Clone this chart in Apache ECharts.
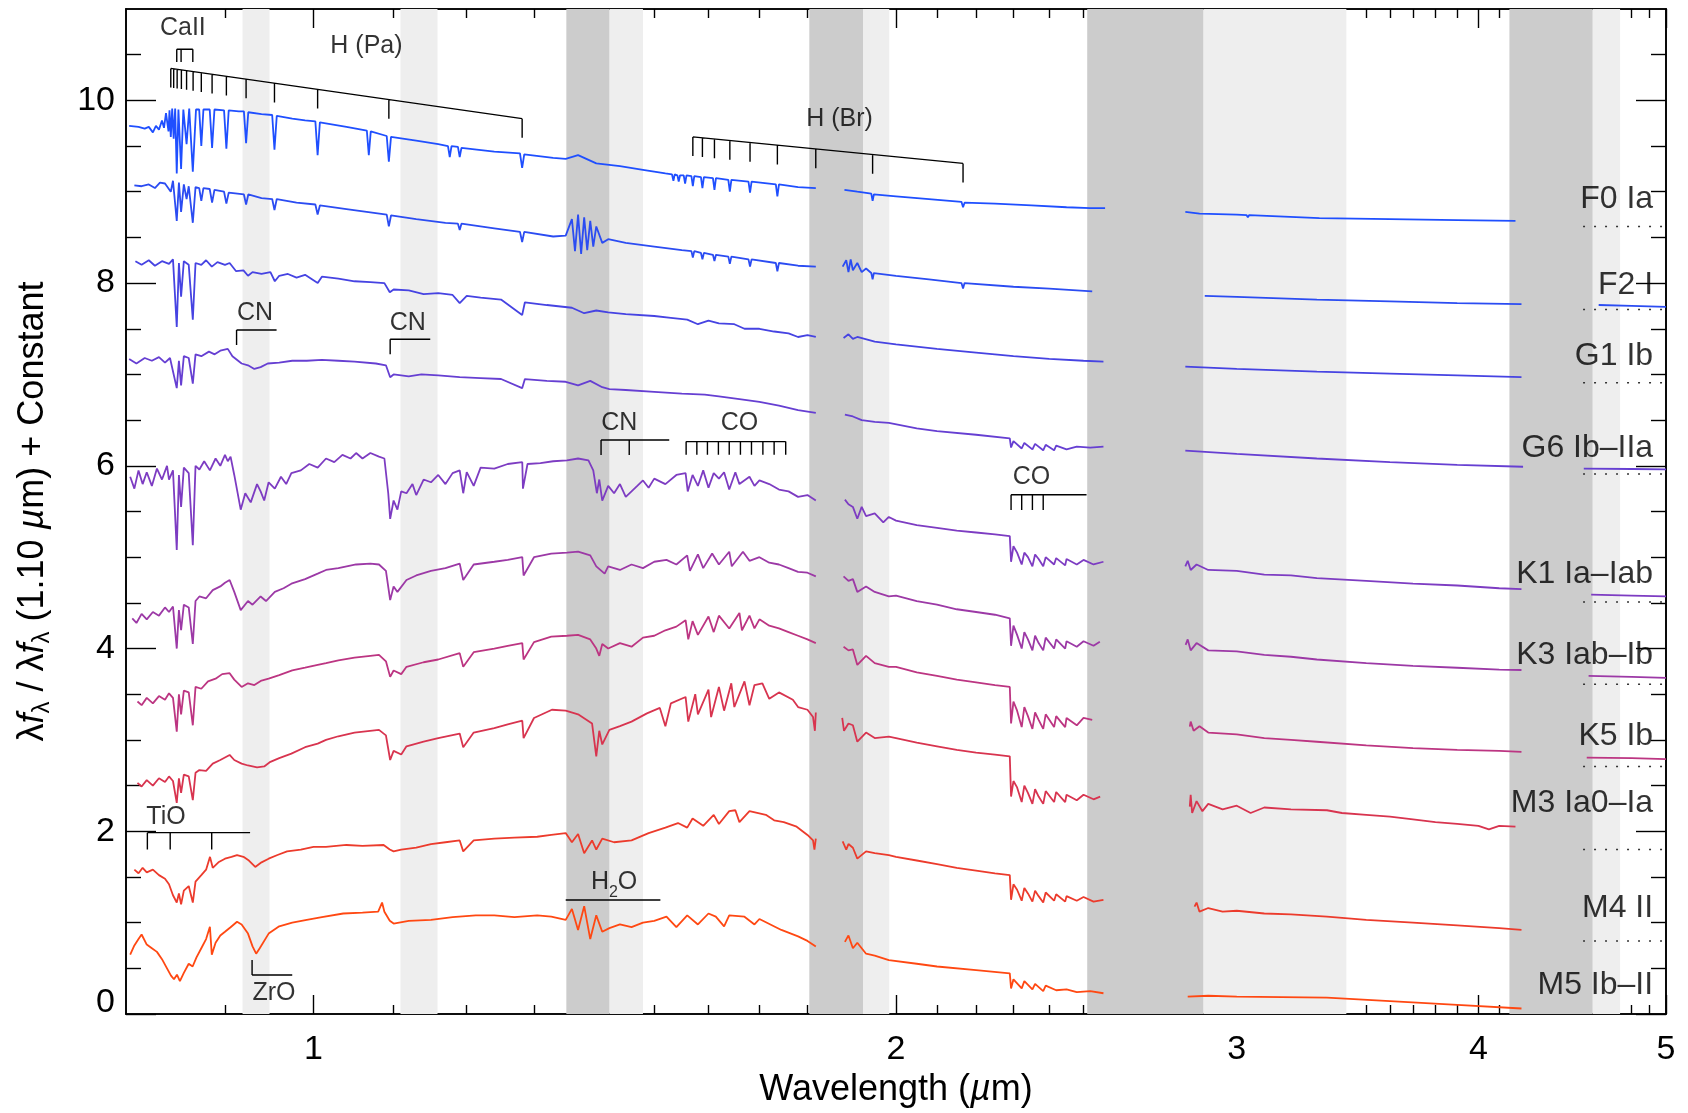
<!DOCTYPE html>
<html>
<head>
<meta charset="utf-8">
<title>Supergiant spectral sequence</title>
<script src="https://cdn.jsdelivr.net/npm/echarts@6/dist/echarts.min.js"></script>
<style>
  html, body { margin: 0; padding: 0; background: #fff; }
  #chart { width: 1688px; height: 1113px; }
</style>
</head>
<body>
<div id="chart"></div>
<script>
// ---- Spectra: [wavelength (um), normalised flux + offset]; [x, null] breaks a line ----
const f0Ia = [
  [0.803,9.72],[0.812,9.71],[0.818,9.69],[0.822,9.71],[0.826,9.65],[0.829,9.72],[0.832,9.68],[0.835,9.78],[0.837,9.70],[0.839,9.86],
  [0.8415,9.66],[0.8425,9.89],[0.8438,9.60],[0.8452,9.91],[0.8467,9.58],[0.8482,9.91],[0.8498,9.20],[0.8515,9.90],[0.8542,9.25],[0.8565,9.90],
  [0.8598,9.52],[0.8625,9.91],[0.8662,9.22],[0.8695,9.90],[0.8728,9.90],[0.8750,9.50],[0.8772,9.90],[0.8838,9.90],[0.8863,9.48],[0.8888,9.90],
  [0.899,9.89],[0.9015,9.47],[0.904,9.89],[0.915,9.88],[0.9205,9.88],[0.9229,9.53],[0.9253,9.87],[0.94,9.85],[0.952,9.84],[0.9546,9.46],
  [0.9572,9.83],[0.975,9.80],[0.99,9.78],[1.0022,9.77],[1.0049,9.40],[1.0076,9.76],[1.04,9.71],[1.0655,9.67],[1.068,9.40],[1.0705,9.66],
  [1.091,9.61],[1.0938,9.33],[1.0966,9.60],[1.13,9.56],[1.16,9.52],[1.1735,9.50],[1.176,9.38],[1.1785,9.50],[1.1875,9.49],[1.19,9.38],
  [1.1925,9.48],[1.24,9.44],[1.2785,9.42],[1.2818,9.26],[1.285,9.41],[1.33,9.37],[1.35,9.36],[1.37,9.40],[1.40,9.31],[1.44,9.28],
  [1.48,9.24],[1.52,9.20],[1.532,9.19],[1.5346,9.12],[1.537,9.19],[1.5418,9.18],[1.5443,9.11],[1.5468,9.18],[1.5535,9.18],[1.5561,9.09],
  [1.5587,9.18],[1.5678,9.17],[1.5705,9.06],[1.5732,9.17],[1.5857,9.16],[1.5885,9.04],[1.5913,9.16],[1.6085,9.15],[1.6114,9.02],[1.6143,9.15],
  [1.6382,9.13],[1.6412,9.00],[1.6442,9.13],[1.678,9.11],[1.6811,8.99],[1.6842,9.11],[1.7335,9.08],[1.7367,8.95],[1.74,9.08],[1.78,9.05],
  [1.818,9.04],
  [1.85,null],
  [1.881,9.02],[1.91,9.00],[1.942,8.98],[1.9451,8.90],[1.948,8.97],[2.00,8.95],[2.08,8.92],[2.162,8.89],[2.1661,8.83],[2.170,8.88],
  [2.25,8.87],[2.35,8.85],[2.45,8.83],[2.52,8.82],[2.565,8.82],
  [2.7,null],
  [2.822,8.78],[2.87,8.76],[3.0,8.75],[3.035,8.745],[3.04,8.72],[3.045,8.745],[3.31,8.71],[3.6,8.70],[3.9,8.69],[4.18,8.68]
];
const f2I = [
  [0.808,9.07],[0.815,9.06],[0.822,9.08],[0.828,9.04],[0.833,9.10],[0.838,9.09],[0.8438,9.00],[0.846,9.12],[0.8498,8.68],[0.852,9.10],
  [0.8542,8.78],[0.857,9.08],[0.8598,8.92],[0.862,9.06],[0.8662,8.66],[0.869,9.05],[0.8728,9.04],[0.875,8.90],[0.8772,9.04],[0.8838,9.03],
  [0.8863,8.88],[0.8888,9.02],[0.899,9.00],[0.9015,8.87],[0.904,8.99],[0.9205,8.97],[0.9229,8.86],[0.9253,8.97],[0.94,8.93],[0.952,8.92],
  [0.9546,8.80],[0.9572,8.92],[0.98,8.88],[1.0022,8.86],[1.0049,8.75],[1.0076,8.85],[1.04,8.81],[1.091,8.75],[1.0938,8.62],[1.0966,8.74],
  [1.13,8.70],[1.17,8.66],[1.1875,8.65],[1.19,8.58],[1.1925,8.65],[1.24,8.60],[1.2785,8.56],[1.2818,8.45],[1.285,8.56],[1.33,8.51],
  [1.35,8.52],[1.36,8.70],[1.365,8.35],[1.37,8.75],[1.375,8.32],[1.38,8.72],[1.385,8.36],[1.39,8.68],[1.395,8.40],[1.40,8.62],
  [1.41,8.44],[1.42,8.48],[1.45,8.44],[1.50,8.40],[1.55,8.36],[1.5678,8.35],[1.5705,8.28],[1.5732,8.35],[1.5857,8.33],[1.5885,8.26],
  [1.5913,8.33],[1.6085,8.31],[1.6114,8.24],[1.6143,8.31],[1.6382,8.29],[1.6412,8.21],[1.6442,8.29],[1.678,8.26],[1.6811,8.18],[1.6842,8.26],
  [1.7335,8.22],[1.7367,8.13],[1.74,8.22],[1.78,8.19],[1.818,8.18],
  [1.85,null],
  [1.877,8.18],[1.885,8.25],[1.89,8.12],[1.895,8.26],[1.90,8.14],[1.91,8.22],[1.92,8.12],[1.93,8.16],[1.942,8.11],[1.9451,8.04],
  [1.948,8.11],[2.0,8.08],[2.08,8.04],[2.162,8.00],[2.1661,7.94],[2.170,8.00],[2.3,7.96],[2.4,7.94],[2.526,7.91],
  [2.7,null],
  [2.888,7.86],[3.0,7.85],[3.3,7.82],[3.6,7.80],[3.9,7.78],[4.21,7.77],
  [4.4,null],
  [4.615,7.76],[4.8,7.75],[5.0,7.74]
];
const g1Ib = [
  [0.809,8.24],[0.815,8.20],[0.822,8.25],[0.828,8.19],[0.835,8.24],[0.842,8.21],[0.846,8.26],[0.8498,7.52],[0.852,8.22],[0.8542,7.85],
  [0.857,8.24],[0.862,8.20],[0.8662,7.60],[0.869,8.22],[0.875,8.20],[0.88,8.25],[0.886,8.18],[0.892,8.23],[0.90,8.20],[0.905,8.22],
  [0.912,8.13],[0.92,8.14],[0.925,8.08],[0.93,8.12],[0.94,8.10],[0.95,8.12],[0.955,8.02],[0.96,8.08],[0.97,8.10],[0.98,8.06],
  [0.99,8.09],[1.005,8.00],[1.01,8.07],[1.03,8.05],[1.05,8.02],[1.07,8.01],[1.088,8.00],[1.095,7.90],[1.10,7.93],[1.12,7.92],
  [1.14,7.88],[1.16,7.89],[1.18,7.87],[1.19,7.78],[1.2,7.86],[1.22,7.84],[1.25,7.82],[1.2818,7.65],[1.286,7.79],[1.32,7.76],
  [1.36,7.73],[1.38,7.67],[1.40,7.70],[1.42,7.68],[1.45,7.66],[1.50,7.64],[1.53,7.62],[1.56,7.60],[1.58,7.55],[1.60,7.59],
  [1.62,7.56],[1.65,7.55],[1.67,7.50],[1.70,7.50],[1.73,7.47],[1.76,7.45],[1.78,7.41],[1.80,7.43],[1.818,7.41],
  [1.85,null],
  [1.879,7.40],[1.89,7.44],[1.90,7.39],[1.91,7.41],[1.95,7.36],[2.0,7.33],[2.1,7.28],[2.2,7.24],[2.3,7.20],[2.4,7.17],
  [2.5,7.15],[2.56,7.14],
  [2.7,null],
  [2.822,7.085],[3.0,7.06],[3.3,7.03],[3.6,7.01],[3.9,6.99],[4.21,6.97]
];
const g6IbIIa = [
  [0.803,7.17],[0.81,7.12],[0.818,7.18],[0.825,7.15],[0.832,7.19],[0.838,7.13],[0.843,7.18],[0.8498,6.85],[0.852,7.15],[0.8542,6.88],
  [0.857,7.20],[0.862,7.18],[0.8662,6.90],[0.869,7.22],[0.875,7.20],[0.883,7.25],[0.889,7.22],[0.895,7.26],[0.903,7.28],[0.908,7.20],
  [0.918,7.12],[0.925,7.10],[0.932,7.06],[0.939,7.08],[0.947,7.12],[0.96,7.13],[0.975,7.15],[0.992,7.15],[1.01,7.16],[1.03,7.15],
  [1.05,7.14],[1.077,7.12],[1.09,7.10],[1.0955,6.97],[1.10,7.00],[1.12,6.98],[1.137,7.00],[1.16,6.99],[1.19,6.97],[1.22,6.96],
  [1.25,6.95],[1.2818,6.85],[1.286,6.95],[1.32,6.93],[1.35,6.92],[1.37,6.88],[1.39,6.93],[1.41,6.86],[1.422,6.84],[1.45,6.83],
  [1.5,6.81],[1.55,6.79],[1.593,6.78],[1.62,6.76],[1.66,6.73],[1.70,6.70],[1.74,6.66],[1.78,6.61],[1.818,6.58],
  [1.85,null],
  [1.882,6.56],[1.90,6.54],[1.92,6.50],[1.95,6.48],[1.983,6.47],[2.05,6.41],[2.1,6.38],[2.2,6.34],[2.29,6.30],[2.2935,6.20],
  [2.30,6.27],[2.3227,6.19],[2.33,6.25],[2.3525,6.18],[2.36,6.24],[2.3829,6.17],[2.39,6.23],[2.414,6.17],[2.42,6.22],[2.45,6.18],
  [2.48,6.21],[2.52,6.20],[2.56,6.21],
  [2.7,null],
  [2.822,6.166],[3.0,6.13],[3.3,6.08],[3.6,6.04],[3.9,6.01],[4.218,5.99],
  [4.4,null],
  [4.534,5.97],[4.8,5.965],[5.0,5.96]
];
const k1IaIab = [
  [0.804,5.88],[0.808,5.75],[0.812,5.95],[0.816,5.80],[0.82,5.93],[0.825,5.78],[0.83,5.97],[0.835,5.85],[0.84,6.00],[0.842,5.85],
  [0.846,5.95],[0.8498,5.08],[0.852,5.90],[0.8542,5.55],[0.857,5.98],[0.862,5.92],[0.8662,5.13],[0.869,6.00],[0.873,5.96],[0.878,6.05],
  [0.884,5.95],[0.89,6.08],[0.895,6.00],[0.90,6.12],[0.903,6.05],[0.906,6.10],[0.91,5.90],[0.917,5.52],[0.922,5.70],[0.928,5.60],
  [0.935,5.80],[0.939,5.72],[0.943,5.62],[0.948,5.82],[0.955,5.75],[0.962,5.88],[0.968,5.80],[0.974,5.92],[0.985,5.95],[0.995,6.02],
  [1.005,5.98],[1.015,6.08],[1.025,6.04],[1.035,6.12],[1.045,6.08],[1.052,6.14],[1.06,6.08],[1.07,6.14],[1.081,6.10],[1.088,6.08],
  [1.093,5.70],[1.0955,5.42],[1.10,5.62],[1.105,5.52],[1.11,5.72],[1.117,5.70],[1.125,5.80],[1.13,5.68],[1.14,5.85],[1.15,5.82],
  [1.16,5.90],[1.17,5.80],[1.18,5.92],[1.19,5.95],[1.195,5.70],[1.2,5.93],[1.21,5.78],[1.22,5.98],[1.24,5.97],[1.26,6.02],
  [1.282,6.04],[1.283,5.75],[1.29,6.02],[1.31,6.03],[1.33,6.05],[1.352,6.06],[1.37,6.08],[1.387,6.06],[1.395,5.95],[1.401,5.70],
  [1.405,5.85],[1.41,5.62],[1.42,5.78],[1.43,5.70],[1.44,5.80],[1.45,5.66],[1.46,5.72],[1.47,5.78],[1.48,5.84],[1.49,5.76],
  [1.50,5.86],[1.52,5.80],[1.54,5.90],[1.557,5.92],[1.561,5.72],[1.57,5.90],[1.58,5.78],[1.59,5.95],[1.60,5.76],[1.61,5.92],
  [1.62,5.86],[1.63,5.93],[1.64,5.74],[1.652,5.93],[1.66,5.80],[1.68,5.88],[1.69,5.78],[1.70,5.84],[1.72,5.80],[1.74,5.74],
  [1.76,5.72],[1.78,5.66],[1.80,5.68],[1.818,5.62],
  [1.85,null],
  [1.882,5.63],[1.89,5.58],[1.90,5.55],[1.91,5.42],[1.92,5.55],[1.93,5.45],[1.95,5.48],[1.97,5.38],[1.983,5.44],[2.0,5.40],
  [2.05,5.35],[2.1,5.32],[2.15,5.29],[2.2,5.27],[2.25,5.25],[2.29,5.23],[2.2935,4.95],[2.30,5.12],[2.31,5.05],[2.3227,4.92],
  [2.33,5.05],[2.34,5.00],[2.3525,4.90],[2.36,5.03],[2.37,4.98],[2.3829,4.90],[2.39,5.00],[2.414,4.92],[2.42,4.99],[2.446,4.91],
  [2.45,4.98],[2.48,4.92],[2.50,4.97],[2.53,4.92],[2.56,4.95],
  [2.7,null],
  [2.822,4.90],[2.83,4.96],[2.84,4.86],[2.86,4.92],[2.9,4.86],[3.0,4.85],[3.1,4.81],[3.2,4.80],[3.3,4.77],[3.5,4.74],
  [3.7,4.71],[3.9,4.69],[4.1,4.66],[4.21,4.65],
  [4.4,null],
  [4.574,4.59],[4.8,4.58],[5.0,4.57]
];
const k3IabIb = [
  [0.806,4.33],[0.81,4.28],[0.815,4.38],[0.82,4.32],[0.826,4.40],[0.832,4.36],[0.838,4.45],[0.842,4.40],[0.846,4.46],[0.8498,4.00],
  [0.852,4.42],[0.8542,4.20],[0.857,4.48],[0.862,4.45],[0.8662,4.05],[0.869,4.52],[0.873,4.57],[0.88,4.55],[0.887,4.64],[0.895,4.68],
  [0.90,4.72],[0.905,4.75],[0.91,4.62],[0.917,4.42],[0.925,4.52],[0.93,4.48],[0.939,4.57],[0.945,4.52],[0.955,4.62],[0.965,4.66],
  [0.974,4.71],[0.99,4.76],[1.005,4.82],[1.015,4.86],[1.03,4.88],[1.052,4.92],[1.07,4.93],[1.081,4.92],[1.09,4.85],[1.0955,4.53],
  [1.10,4.68],[1.105,4.62],[1.117,4.75],[1.13,4.80],[1.15,4.85],[1.17,4.88],[1.19,4.93],[1.195,4.75],[1.21,4.92],[1.24,4.95],
  [1.26,4.97],[1.282,5.00],[1.284,4.80],[1.30,5.00],[1.327,5.04],[1.352,5.05],[1.37,5.06],[1.39,5.02],[1.40,4.90],[1.414,4.82],
  [1.42,4.90],[1.44,4.86],[1.46,4.92],[1.48,4.88],[1.50,4.95],[1.522,4.97],[1.54,4.92],[1.56,5.02],[1.565,4.85],[1.58,5.03],
  [1.59,4.88],[1.607,5.04],[1.62,4.92],[1.64,5.06],[1.645,4.90],[1.667,5.06],[1.68,4.96],[1.70,5.00],[1.72,4.94],[1.74,4.92],
  [1.76,4.88],[1.78,4.84],[1.80,4.83],[1.818,4.79],
  [1.85,null],
  [1.879,4.79],[1.89,4.74],[1.90,4.76],[1.91,4.62],[1.93,4.68],[1.95,4.62],[1.983,4.57],[2.0,4.58],[2.05,4.52],[2.1,4.48],
  [2.15,4.43],[2.2,4.40],[2.25,4.37],[2.29,4.33],[2.2935,4.03],[2.30,4.25],[2.31,4.15],[2.3227,4.00],[2.33,4.18],[2.34,4.10],
  [2.3525,3.98],[2.36,4.14],[2.37,4.06],[2.3829,3.98],[2.39,4.12],[2.414,4.00],[2.42,4.10],[2.446,4.00],[2.45,4.08],[2.48,4.02],
  [2.50,4.08],[2.53,4.03],[2.549,4.075],
  [2.7,null],
  [2.823,4.04],[2.83,4.10],[2.84,3.98],[2.86,4.06],[2.9,3.98],[3.0,3.97],[3.1,3.93],[3.2,3.91],[3.3,3.88],[3.5,3.84],
  [3.7,3.81],[3.9,3.79],[4.1,3.77],[4.21,3.765],
  [4.4,null],
  [4.56,3.70],[4.8,3.69],[5.0,3.68]
];
const k5Ib = [
  [0.811,3.42],[0.815,3.38],[0.82,3.46],[0.826,3.40],[0.832,3.48],[0.838,3.44],[0.842,3.51],[0.846,3.46],[0.8498,3.09],[0.852,3.50],
  [0.8542,3.28],[0.857,3.54],[0.862,3.52],[0.8662,3.16],[0.869,3.58],[0.875,3.56],[0.882,3.64],[0.89,3.67],[0.897,3.72],[0.905,3.73],
  [0.91,3.66],[0.918,3.58],[0.925,3.62],[0.932,3.60],[0.94,3.65],[0.948,3.67],[0.96,3.71],[0.975,3.76],[0.99,3.79],[1.005,3.82],
  [1.015,3.84],[1.03,3.87],[1.05,3.90],[1.07,3.92],[1.081,3.93],[1.09,3.86],[1.0955,3.69],[1.10,3.76],[1.11,3.72],[1.117,3.80],
  [1.14,3.85],[1.16,3.88],[1.19,3.95],[1.195,3.80],[1.21,3.96],[1.24,4.00],[1.26,4.03],[1.282,4.06],[1.284,3.88],[1.30,4.07],
  [1.327,4.13],[1.352,4.14],[1.37,4.15],[1.39,4.10],[1.40,4.00],[1.405,3.92],[1.41,4.05],[1.42,4.00],[1.44,4.06],[1.46,4.02],
  [1.48,4.12],[1.50,4.14],[1.52,4.20],[1.54,4.24],[1.557,4.31],[1.562,4.10],[1.57,4.30],[1.58,4.15],[1.60,4.35],[1.61,4.18],
  [1.62,4.36],[1.64,4.22],[1.66,4.39],[1.665,4.20],[1.68,4.36],[1.69,4.22],[1.70,4.32],[1.72,4.25],[1.74,4.22],[1.76,4.18],
  [1.78,4.14],[1.80,4.10],[1.818,4.06],
  [1.85,null],
  [1.879,4.02],[1.89,3.98],[1.90,3.99],[1.91,3.82],[1.93,3.92],[1.95,3.84],[1.983,3.80],[2.0,3.80],[2.05,3.74],[2.1,3.70],
  [2.15,3.66],[2.2,3.63],[2.25,3.60],[2.29,3.58],[2.2935,3.18],[2.30,3.42],[2.31,3.32],[2.3227,3.14],[2.33,3.36],[2.34,3.26],
  [2.3525,3.12],[2.36,3.30],[2.37,3.22],[2.3829,3.12],[2.39,3.28],[2.414,3.14],[2.42,3.26],[2.446,3.14],[2.45,3.24],[2.48,3.16],
  [2.50,3.24],[2.526,3.22],
  [2.7,null],
  [2.837,3.145],[2.84,3.20],[2.85,3.10],[2.87,3.15],[2.9,3.08],[3.0,3.06],[3.1,3.02],[3.2,3.00],[3.3,2.98],[3.5,2.94],
  [3.7,2.91],[3.9,2.89],[4.1,2.88],[4.21,2.87],
  [4.4,null],
  [4.55,2.805],[4.8,2.80],[5.0,2.79]
];
const m3Ia0Ia = [
  [0.811,2.53],[0.815,2.49],[0.82,2.56],[0.826,2.50],[0.832,2.58],[0.838,2.54],[0.842,2.60],[0.846,2.55],[0.8498,2.31],[0.852,2.58],
  [0.8542,2.42],[0.857,2.62],[0.862,2.60],[0.8662,2.34],[0.869,2.64],[0.873,2.67],[0.88,2.66],[0.887,2.74],[0.895,2.78],[0.905,2.835],
  [0.91,2.78],[0.918,2.74],[0.925,2.72],[0.935,2.70],[0.943,2.71],[0.95,2.76],[0.96,2.80],[0.974,2.85],[0.99,2.92],[1.005,2.96],
  [1.015,3.00],[1.03,3.04],[1.05,3.08],[1.081,3.11],[1.09,3.05],[1.0955,2.78],[1.10,2.88],[1.11,2.84],[1.117,2.93],[1.14,2.98],
  [1.16,3.02],[1.19,3.07],[1.195,2.92],[1.21,3.08],[1.24,3.13],[1.26,3.17],[1.282,3.21],[1.284,3.02],[1.30,3.24],[1.328,3.33],
  [1.35,3.32],[1.37,3.28],[1.393,3.18],[1.40,2.82],[1.405,3.10],[1.41,2.95],[1.422,3.11],[1.44,3.15],[1.46,3.20],[1.487,3.29],
  [1.51,3.35],[1.52,3.15],[1.53,3.40],[1.557,3.47],[1.562,3.20],[1.575,3.50],[1.58,3.28],[1.60,3.55],[1.605,3.25],[1.62,3.58],
  [1.63,3.32],[1.644,3.62],[1.65,3.36],[1.67,3.64],[1.68,3.38],[1.69,3.60],[1.706,3.62],[1.72,3.45],[1.74,3.52],[1.769,3.44],
  [1.78,3.36],[1.80,3.33],[1.812,3.25],[1.816,3.10],[1.818,3.30],
  [1.85,null],
  [1.876,3.24],[1.88,3.10],[1.89,3.18],[1.90,3.16],[1.91,2.98],[1.93,3.08],[1.95,3.02],[1.983,3.035],[2.0,3.02],[2.05,2.97],
  [2.1,2.93],[2.15,2.89],[2.2,2.86],[2.25,2.84],[2.29,2.82],[2.2935,2.38],[2.30,2.55],[2.31,2.48],[2.3227,2.32],[2.33,2.50],
  [2.34,2.42],[2.3525,2.30],[2.36,2.46],[2.37,2.38],[2.3829,2.30],[2.39,2.44],[2.414,2.32],[2.42,2.43],[2.446,2.32],[2.45,2.40],
  [2.48,2.34],[2.50,2.40],[2.53,2.35],[2.55,2.38],
  [2.7,null],
  [2.837,2.27],[2.84,2.40],[2.845,2.20],[2.86,2.33],[2.88,2.22],[2.9,2.30],[2.95,2.24],[3.0,2.28],[3.05,2.20],[3.1,2.26],
  [3.2,2.24],[3.34,2.23],[3.4,2.20],[3.5,2.18],[3.6,2.16],[3.7,2.13],[3.8,2.10],[3.9,2.08],[4.0,2.06],[4.05,2.02],
  [4.1,2.06],[4.18,2.05]
];
const m4II = [
  [0.808,1.58],[0.812,1.54],[0.816,1.60],[0.82,1.55],[0.826,1.58],[0.832,1.52],[0.838,1.48],[0.842,1.42],[0.846,1.30],[0.8498,1.22],
  [0.852,1.32],[0.8542,1.20],[0.857,1.35],[0.862,1.40],[0.8662,1.22],[0.869,1.45],[0.875,1.52],[0.88,1.58],[0.8841,1.72],[0.887,1.60],
  [0.893,1.66],[0.90,1.70],[0.907,1.72],[0.913,1.74],[0.92,1.72],[0.926,1.68],[0.933,1.61],[0.94,1.66],[0.948,1.70],[0.958,1.74],
  [0.969,1.78],[0.985,1.80],[1.0,1.83],[1.015,1.83],[1.04,1.85],[1.06,1.84],[1.087,1.85],[1.095,1.80],[1.10,1.78],[1.11,1.80],
  [1.13,1.82],[1.15,1.86],[1.17,1.88],[1.19,1.90],[1.195,1.78],[1.21,1.90],[1.24,1.92],[1.27,1.93],[1.305,1.94],[1.327,1.96],
  [1.35,1.98],[1.36,1.88],[1.37,1.97],[1.38,1.76],[1.393,1.90],[1.40,1.80],[1.41,1.92],[1.43,1.88],[1.46,1.90],[1.49,1.98],
  [1.52,2.04],[1.543,2.09],[1.56,2.04],[1.57,2.14],[1.59,2.06],[1.61,2.18],[1.62,2.08],[1.64,2.22],[1.652,2.23],[1.66,2.10],
  [1.68,2.22],[1.713,2.18],[1.73,2.12],[1.75,2.10],[1.777,2.05],[1.80,1.96],[1.812,1.90],[1.815,1.80],[1.818,1.92],
  [1.85,null],
  [1.877,1.89],[1.885,1.80],[1.89,1.86],[1.90,1.82],[1.91,1.70],[1.93,1.78],[1.95,1.76],[1.983,1.74],[2.0,1.72],[2.05,1.68],
  [2.1,1.64],[2.15,1.60],[2.2,1.57],[2.25,1.54],[2.29,1.52],[2.2935,1.25],[2.30,1.42],[2.31,1.36],[2.3227,1.24],[2.33,1.38],
  [2.34,1.32],[2.3525,1.23],[2.36,1.35],[2.37,1.29],[2.3829,1.22],[2.39,1.33],[2.414,1.24],[2.42,1.31],[2.446,1.23],[2.45,1.29],
  [2.48,1.24],[2.50,1.28],[2.53,1.23],[2.56,1.25],
  [2.7,null],
  [2.853,1.175],[2.86,1.22],[2.87,1.12],[2.9,1.16],[2.95,1.12],[3.0,1.13],[3.1,1.10],[3.2,1.09],[3.34,1.065],[3.5,1.03],
  [3.7,1.00],[3.9,0.97],[4.1,0.94],[4.21,0.92]
];
const m5IbII = [
  [0.804,0.65],[0.808,0.75],[0.812,0.82],[0.815,0.87],[0.82,0.76],[0.825,0.72],[0.83,0.68],[0.835,0.60],[0.84,0.50],[0.844,0.42],
  [0.847,0.38],[0.85,0.43],[0.853,0.36],[0.857,0.45],[0.862,0.55],[0.866,0.52],[0.87,0.62],[0.875,0.72],[0.88,0.82],[0.884,0.955],
  [0.886,0.65],[0.89,0.78],[0.895,0.86],[0.90,0.90],[0.906,0.95],[0.913,1.01],[0.918,0.98],[0.925,0.88],[0.93,0.74],[0.934,0.66],
  [0.938,0.72],[0.948,0.88],[0.96,0.96],[0.975,1.00],[0.992,1.03],[1.01,1.06],[1.036,1.10],[1.06,1.11],[1.08,1.12],[1.085,1.22],
  [1.088,1.12],[1.095,1.02],[1.10,0.99],[1.12,1.02],[1.15,1.03],[1.18,1.06],[1.213,1.08],[1.24,1.08],[1.27,1.06],[1.305,1.08],
  [1.327,1.065],[1.35,1.03],[1.36,1.15],[1.37,0.92],[1.38,1.18],[1.39,0.82],[1.40,1.08],[1.41,0.90],[1.422,0.94],[1.44,0.98],
  [1.46,0.95],[1.48,1.00],[1.50,1.02],[1.522,1.065],[1.54,0.95],[1.56,1.08],[1.58,0.98],[1.60,1.10],[1.614,1.065],[1.63,0.96],
  [1.64,1.08],[1.67,1.065],[1.69,0.98],[1.70,1.04],[1.745,0.92],[1.78,0.85],[1.80,0.80],[1.818,0.74],
  [1.85,null],
  [1.882,0.79],[1.89,0.86],[1.90,0.72],[1.91,0.78],[1.93,0.66],[1.95,0.64],[1.983,0.59],[2.05,0.55],[2.1,0.52],[2.2,0.48],
  [2.29,0.445],[2.2935,0.28],[2.30,0.38],[2.3227,0.28],[2.33,0.36],[2.3525,0.27],[2.36,0.33],[2.3829,0.25],[2.39,0.31],[2.42,0.26],
  [2.45,0.27],[2.48,0.24],[2.52,0.25],[2.56,0.227],
  [2.7,null],
  [2.83,0.19],[2.9,0.20],[3.0,0.19],[3.34,0.18],[3.6,0.14],[3.9,0.10],[4.21,0.06]
];

const spectra = [f0Ia, f2I, g1Ib, g6IbIIa, k1IaIab, k3IabIb, k5Ib, m3Ia0Ia, m4II, m5IbII];
const starNames = ['F0 Ia', 'F2 I', 'G1 Ib', 'G6 Ib–IIa', 'K1 Ia–Iab', 'K3 Iab–Ib', 'K5 Ib', 'M3 Ia0–Ia', 'M4 II', 'M5 Ib–II'];
const starColors = ['#1f4fff', '#2b4cf2', '#4643e2', '#663fd2', '#7d3cc2', '#9c39a6', '#bc3582', '#d8344f', '#ec3b2c', '#ff4812'];
const labelLevels = [8.92, 7.98, 7.20, 6.19, 4.81, 3.93, 3.04, 2.31, 1.16, 0.32];
const zeroLevels = [8.62, 7.71, 6.91, 5.91, 4.51, 3.61, 2.71, 1.80, 0.80];
const zeroSpan = [4.53, 5.0];

// ---- Telluric bands (um) ----
const darkBands = [[1.351, 1.422], [1.804, 1.923], [2.511, 2.883], [4.150, 4.582]];
const lightBands = [[0.919, 0.949], [1.109, 1.159], [1.422, 1.480], [1.923, 1.984], [2.883, 3.418], [4.582, 4.734]];

// ---- Line identifications ----
const paschenLines = [0.8438, 0.8467, 0.8502, 0.8545, 0.8598, 0.8665, 0.8750, 0.8863, 0.9015, 0.9229, 0.9546, 1.0049, 1.0938, 1.2818];
const paschenBar = [10.35, 9.80];
const brackettLines = [1.5705, 1.5885, 1.6114, 1.6412, 1.6811, 1.7367, 1.8179, 1.9451, 2.1661];
const brackettBar = [9.60, 9.31];
const combDrop = 0.21;
// flat brackets: [line positions, bar end, bar level, tick end level]
const caIIBar = [[0.8498, 0.8542, 0.8662], 0.8662, 10.56, 10.42];
const cnBars = [
  [[0.9125], 0.957, 7.487, 7.323],
  [[1.0955], 1.149, 7.385, 7.221],
  [[1.408, 1.456], 1.527, 6.283, 6.119]
];
const coHBar = [[1.558, 1.578, 1.598, 1.619, 1.640, 1.662, 1.684, 1.707, 1.730, 1.754], 1.754, 6.265, 6.12];
const coKBar = [[2.2935, 2.3227, 2.3525, 2.3829], 2.509, 5.684, 5.517];
const tioBar = [[0.8206, 0.8432, 0.8859], 0.9273, 1.985, 1.80];
const zroBar = [[0.9295], 0.975, 0.427, 0.591];
const h2oBar = [1.350, 1.511, 1.248];
const featureLabels = [
  ['CaII', 0.856, 10.79], ['H (Pa)', 1.065, 10.59], ['H (Br)', 1.87, 9.80],
  ['CN', 0.9327, 7.67], ['CN', 1.1186, 7.567], ['CN', 1.439, 6.472],
  ['CO', 1.66, 6.472], ['CO', 2.35, 5.875], ['TiO', 0.839, 2.16],
  ['ZrO', 0.954, 0.227], ['H2O', 1.43, 1.448]
];

// ---- Axis ticks ----
const xMajorTicks = [1, 2, 3, 4, 5];
const xMinorTicks = [0.9, 1.1, 1.2, 1.3, 1.4, 1.5, 1.6, 1.7, 1.8, 1.9, 2.1, 2.2, 2.3, 2.4, 2.5, 2.6, 2.7, 2.8, 2.9,
  3.1, 3.2, 3.3, 3.4, 3.5, 3.6, 3.7, 3.8, 3.9, 4.1, 4.2, 4.3, 4.4, 4.5, 4.6, 4.7, 4.8, 4.9];
const yMajorTicks = [0, 2, 4, 6, 8, 10];
const yMinorTicks = [0.5, 1, 1.5, 2.5, 3, 3.5, 4.5, 5, 5.5, 6.5, 7, 7.5, 8.5, 9, 9.5, 10.5];

// ---- Bracket geometry helpers ----
function combBracket(lines, bar, drop) {
  const a = Math.log10(lines[0]), b = Math.log10(lines[lines.length - 1]);
  const level = l => bar[0] + (bar[1] - bar[0]) * (Math.log10(l) - a) / (b - a);
  const pts = [[lines[0], bar[0]], [lines[lines.length - 1], bar[1]], [lines[0], null]];
  lines.forEach(l => { pts.push([l, level(l)], [l, level(l) - drop], [l, null]); });
  return pts;
}
function flatBracket(spec) {
  const [lines, end, top, tip] = spec;
  const pts = [[lines[0], top], [end, top], [end, null]];
  lines.forEach(l => { pts.push([l, top], [l, tip], [l, null]); });
  return pts;
}
const bracketData = [].concat(
  combBracket(paschenLines, paschenBar, combDrop),
  combBracket(brackettLines, brackettBar, combDrop),
  flatBracket(caIIBar),
  ...cnBars.map(flatBracket),
  flatBracket(coHBar),
  flatBracket(coKBar),
  flatBracket(tioBar),
  flatBracket(zroBar),
  [[h2oBar[0], h2oBar[2]], [h2oBar[1], h2oBar[2]], [h2oBar[1], null]]
);

const FONT = "'Liberation Sans', Helvetica, Arial, sans-serif";
const axisLine = { show: true, onZero: false, lineStyle: { color: '#000', width: 1.6 } };
const tickStyle = { color: '#000', width: 1.4 };

function xAxisDef(position, ticks, len, withLabels) {
  return {
    type: 'log', logBase: 10, min: 0.8, max: 5, position: position,
    axisLine: axisLine,
    axisTick: { show: true, inside: true, length: len, customValues: ticks, lineStyle: tickStyle },
    axisLabel: withLabels ? {
      show: true, customValues: ticks, margin: 19, color: '#000', fontSize: 34, fontFamily: FONT,
      formatter: v => String(Math.round(v))
    } : { show: false },
    splitLine: { show: false }, minorTick: { show: false }, minorSplitLine: { show: false }
  };
}
function yAxisDef(position, ticks, len, withLabels) {
  return {
    type: 'value', min: 0, max: 11, position: position,
    axisLine: axisLine,
    axisTick: { show: true, inside: true, length: len, customValues: ticks, lineStyle: tickStyle },
    axisLabel: withLabels ? {
      show: true, customValues: ticks, margin: 11, color: '#000', fontSize: 34, fontFamily: FONT,
      formatter: v => (v === 0 ? '{z|0}' : String(v)),
      rich: { z: { fontSize: 34, fontFamily: FONT, color: '#000', padding: [0, 0, 22, 0] } }
    } : { show: false },
    splitLine: { show: false }, minorTick: { show: false }
  };
}

const xMain = xAxisDef('bottom', xMajorTicks, 19, true);
xMain.name = 'Wavelength ({i|µ}m)';
xMain.nameLocation = 'middle';
xMain.nameGap = 56;
xMain.nameTextStyle = { fontSize: 36, fontFamily: FONT, color: '#000',
  rich: { i: { fontSize: 36, fontFamily: FONT, fontStyle: 'italic', color: '#000' } } };

const yMain = yAxisDef('left', yMajorTicks, 30, true);
yMain.name = '{a|λ}{b|f}{s|λ}{a| / λ}{b|f}{s|λ}{a| (1.10 }{b|µ}{a|m) + Constant}';
yMain.nameLocation = 'middle';
yMain.nameRotate = 90;
yMain.nameGap = 72;
yMain.nameTextStyle = {
  fontSize: 36, fontFamily: FONT, color: '#000',
  rich: {
    a: { fontSize: 36, fontFamily: FONT, color: '#000', lineHeight: 42 },
    b: { fontSize: 36, fontFamily: FONT, color: '#000', fontStyle: 'italic', lineHeight: 42 },
    s: { fontSize: 24, fontFamily: FONT, color: '#000', verticalAlign: 'bottom', lineHeight: 24 }
  }
};

const series = [];
// shaded telluric regions
series.push({
  type: 'line', data: [], z: 1, silent: true,
  markArea: {
    silent: true,
    data: lightBands.map(b => [{ xAxis: b[0], itemStyle: { color: '#eeeeee' } }, { xAxis: b[1] }])
      .concat(darkBands.map(b => [{ xAxis: b[0], itemStyle: { color: '#cccccc' } }, { xAxis: b[1] }]))
  }
});
// spectra
spectra.forEach((d, i) => {
  series.push({
    name: starNames[i], type: 'line', data: d, z: 3, silent: true,
    showSymbol: false, symbol: 'none', connectNulls: false,
    lineStyle: { color: starColors[i], width: 1.8 }
  });
});
// dotted reference levels
zeroLevels.forEach(v => {
  series.push({
    type: 'line', z: 2, silent: true, symbol: 'none',
    data: [[zeroSpan[0], v], [zeroSpan[1], v]],
    lineStyle: { color: '#333', width: 1.5, type: [2, 9] }
  });
});
// identification brackets
series.push({
  type: 'line', data: bracketData, z: 4, silent: true, symbol: 'none', connectNulls: false,
  lineStyle: { color: '#000', width: 1.4 }
});
// feature names
series.push({
  type: 'scatter', z: 5, silent: true, symbolSize: 0,
  data: featureLabels.map(f => ({ name: f[0], value: [f[1], f[2]] })),
  label: {
    show: true, position: 'inside', color: '#000', fontSize: 25, fontFamily: FONT,
    formatter: p => (p.name === 'H2O' ? 'H{sub|2}O' : p.name),
    rich: { sub: { fontSize: 16, fontFamily: FONT, color: '#000', verticalAlign: 'bottom', lineHeight: 16, padding: [0, 0, -6, 0] } }
  }
});
// star names
series.push({
  type: 'scatter', z: 5, silent: true, symbolSize: 0,
  data: starNames.map((n, i) => ({ name: n, value: [4.924, labelLevels[i]] })),
  label: { show: true, position: 'left', distance: 0, color: '#000', fontSize: 32, fontFamily: FONT, formatter: '{b}' }
});

const chart = echarts.init(document.getElementById('chart'), null, { renderer: 'canvas' });
chart.setOption({
  animation: false,
  backgroundColor: '#fff',
  grid: { left: 126, right: 22, top: 9, bottom: 99, containLabel: false, outerBoundsMode: 'none' },
  xAxis: [
    xAxisDef('bottom', xMinorTicks, 9, false),
    xAxisDef('top', xMinorTicks, 9, false),
    xMain,
    xAxisDef('top', xMajorTicks, 19, false)
  ],
  yAxis: [
    yAxisDef('left', yMinorTicks, 15, false),
    yAxisDef('right', yMinorTicks, 15, false),
    yMain,
    yAxisDef('right', yMajorTicks, 30, false)
  ],
  series: series
});
</script>
</body>
</html>
